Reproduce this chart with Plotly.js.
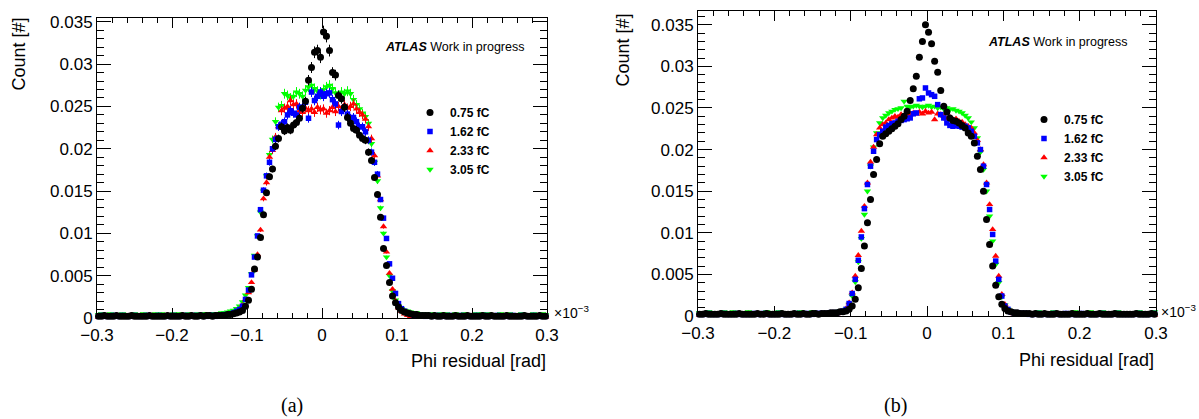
<!DOCTYPE html>
<html>
<head>
<meta charset="utf-8">
<script src="https://cdn.plot.ly/plotly-3.0.1.min.js"></script>
<style>html,body{margin:0;padding:0;background:#fff;}#chart{width:1199px;height:419px;}</style>
</head>
<body>
<div id="chart"></div>
<script>
// Bin centres of the phi residual histograms (x 10^-3 rad)
const phiResidual = [
-0.298,-0.294,-0.290,-0.286,-0.282,-0.278,-0.274,-0.270,-0.266,-0.262,
-0.258,-0.254,-0.250,-0.246,-0.242,-0.238,-0.234,-0.230,-0.226,-0.222,
-0.218,-0.214,-0.210,-0.206,-0.202,-0.198,-0.194,-0.190,-0.186,-0.182,
-0.178,-0.174,-0.170,-0.166,-0.162,-0.158,-0.154,-0.150,-0.146,-0.142,
-0.138,-0.134,-0.130,-0.126,-0.122,-0.118,-0.114,-0.110,-0.106,-0.102,
-0.098,-0.094,-0.090,-0.086,-0.082,-0.078,-0.074,-0.070,-0.066,-0.062,
-0.058,-0.054,-0.050,-0.046,-0.042,-0.038,-0.034,-0.030,-0.026,-0.022,
-0.018,-0.014,-0.010,-0.006,-0.002,0.002,0.006,0.010,0.014,0.018,
0.022,0.026,0.030,0.034,0.038,0.042,0.046,0.050,0.054,0.058,
0.062,0.066,0.070,0.074,0.078,0.082,0.086,0.090,0.094,0.098,
0.102,0.106,0.110,0.114,0.118,0.122,0.126,0.130,0.134,0.138,
0.142,0.146,0.150,0.154,0.158,0.162,0.166,0.170,0.174,0.178,
0.182,0.186,0.190,0.194,0.198,0.202,0.206,0.210,0.214,0.218,
0.222,0.226,0.230,0.234,0.238,0.242,0.246,0.250,0.254,0.258,
0.262,0.266,0.270,0.274,0.278,0.282,0.286,0.290,0.294,0.298];

const chargeLabels = ['0.75 fC', '1.62 fC', '2.33 fC', '3.05 fC'];

// Panel (a)
const countA_075 = [
0.0002,0.0002,0.0003,0.0002,0.0002,0.0002,0.0003,0.0002,0.0002,0.0002,
0.0002,0.0003,0.0002,0.0002,0.0002,0.0002,0.0002,0.0003,0.0002,0.0002,
0.0002,0.0002,0.0002,0.0003,0.0002,0.0002,0.0002,0.0002,0.0003,0.0002,
0.0002,0.0003,0.0002,0.0002,0.0003,0.0002,0.0003,0.0003,0.0002,0.0003,
0.0003,0.0003,0.0003,0.0004,0.0004,0.0005,0.0006,0.0007,0.0009,0.0014,
0.0021,0.0034,0.0058,0.0072,0.0095,0.0122,0.0148,0.0167,0.0176,0.0203,
0.0212,0.0226,0.0221,0.0225,0.0222,0.0228,0.0231,0.0236,0.0248,0.0256,
0.0281,0.0296,0.0314,0.0316,0.0308,0.0338,0.0333,0.0316,0.0290,0.0287,
0.0263,0.0259,0.0249,0.0237,0.0230,0.0224,0.0222,0.0216,0.0212,0.0210,
0.0196,0.0186,0.0166,0.0146,0.0119,0.0082,0.0062,0.0042,0.0026,0.0018,
0.0013,0.0009,0.0007,0.0006,0.0005,0.0004,0.0004,0.0003,0.0003,0.0003,
0.0003,0.0002,0.0003,0.0002,0.0002,0.0003,0.0002,0.0002,0.0002,0.0003,
0.0002,0.0002,0.0002,0.0003,0.0002,0.0002,0.0002,0.0002,0.0003,0.0002,
0.0002,0.0003,0.0002,0.0002,0.0002,0.0002,0.0003,0.0002,0.0002,0.0002,
0.0002,0.0002,0.0003,0.0002,0.0002,0.0002,0.0002,0.0003,0.0002,0.0002];
const countA_162 = [
0.0002,0.0003,0.0002,0.0002,0.0002,0.0003,0.0002,0.0002,0.0003,0.0002,
0.0002,0.0002,0.0003,0.0002,0.0002,0.0002,0.0003,0.0002,0.0002,0.0002,
0.0003,0.0002,0.0002,0.0002,0.0002,0.0003,0.0002,0.0002,0.0002,0.0003,
0.0002,0.0002,0.0003,0.0002,0.0003,0.0002,0.0002,0.0003,0.0003,0.0002,
0.0003,0.0003,0.0004,0.0004,0.0005,0.0006,0.0008,0.0010,0.0014,0.0022,
0.0033,0.0051,0.0072,0.0097,0.0128,0.0151,0.0168,0.0184,0.0200,0.0211,
0.0226,0.0229,0.0232,0.0240,0.0245,0.0242,0.0240,0.0249,0.0249,0.0255,
0.0236,0.0267,0.0257,0.0262,0.0267,0.0262,0.0265,0.0266,0.0258,0.0253,
0.0228,0.0244,0.0249,0.0241,0.0236,0.0237,0.0232,0.0226,0.0226,0.0220,
0.0210,0.0196,0.0184,0.0170,0.0140,0.0118,0.0094,0.0064,0.0047,0.0029,
0.0017,0.0011,0.0008,0.0006,0.0005,0.0004,0.0003,0.0003,0.0003,0.0002,
0.0003,0.0002,0.0002,0.0003,0.0002,0.0002,0.0002,0.0003,0.0002,0.0002,
0.0002,0.0003,0.0002,0.0002,0.0002,0.0002,0.0003,0.0002,0.0002,0.0003,
0.0002,0.0002,0.0002,0.0003,0.0002,0.0002,0.0002,0.0002,0.0003,0.0002,
0.0002,0.0003,0.0002,0.0002,0.0002,0.0003,0.0002,0.0002,0.0002,0.0002];
const countA_233 = [
0.0001,0.0001,0.0002,0.0001,0.0001,0.0001,0.0002,0.0001,0.0001,0.0001,
0.0001,0.0002,0.0001,0.0001,0.0001,0.0001,0.0001,0.0002,0.0001,0.0001,
0.0001,0.0001,0.0001,0.0002,0.0001,0.0001,0.0001,0.0001,0.0002,0.0001,
0.0001,0.0002,0.0001,0.0001,0.0002,0.0001,0.0002,0.0001,0.0002,0.0002,
0.0002,0.0002,0.0003,0.0003,0.0004,0.0005,0.0007,0.0010,0.0015,0.0022,
0.0030,0.0042,0.0057,0.0075,0.0104,0.0141,0.0160,0.0190,0.0198,0.0214,
0.0226,0.0245,0.0248,0.0250,0.0257,0.0252,0.0253,0.0245,0.0243,0.0248,
0.0245,0.0247,0.0243,0.0249,0.0246,0.0247,0.0242,0.0245,0.0249,0.0244,
0.0250,0.0246,0.0252,0.0248,0.0250,0.0253,0.0247,0.0243,0.0240,0.0235,
0.0226,0.0212,0.0192,0.0168,0.0140,0.0108,0.0078,0.0053,0.0034,0.0020,
0.0012,0.0008,0.0005,0.0003,0.0002,0.0002,0.0001,0.0002,0.0001,0.0001,
0.0001,0.0001,0.0002,0.0001,0.0001,0.0001,0.0001,0.0002,0.0001,0.0001,
0.0001,0.0002,0.0001,0.0001,0.0001,0.0001,0.0002,0.0001,0.0001,0.0001,
0.0001,0.0001,0.0001,0.0002,0.0001,0.0001,0.0001,0.0001,0.0002,0.0001,
0.0001,0.0001,0.0002,0.0001,0.0001,0.0001,0.0001,0.0001,0.0002,0.0001];
const countA_305 = [
0.0004,0.0005,0.0004,0.0004,0.0005,0.0004,0.0004,0.0004,0.0005,0.0004,
0.0004,0.0004,0.0005,0.0004,0.0004,0.0005,0.0004,0.0004,0.0004,0.0005,
0.0004,0.0005,0.0004,0.0004,0.0004,0.0005,0.0004,0.0005,0.0004,0.0004,
0.0005,0.0004,0.0004,0.0005,0.0004,0.0005,0.0005,0.0004,0.0005,0.0005,
0.0005,0.0006,0.0006,0.0007,0.0008,0.0009,0.0011,0.0014,0.0019,0.0027,
0.0036,0.0052,0.0074,0.0097,0.0125,0.0150,0.0168,0.0193,0.0211,0.0232,
0.0249,0.0251,0.0265,0.0263,0.0260,0.0262,0.0267,0.0265,0.0262,0.0269,
0.0273,0.0275,0.0271,0.0268,0.0264,0.0270,0.0273,0.0275,0.0271,0.0266,
0.0262,0.0267,0.0265,0.0268,0.0265,0.0258,0.0252,0.0247,0.0242,0.0238,
0.0230,0.0206,0.0184,0.0162,0.0130,0.0100,0.0072,0.0050,0.0032,0.0021,
0.0014,0.0011,0.0009,0.0008,0.0007,0.0006,0.0006,0.0005,0.0005,0.0005,
0.0004,0.0005,0.0004,0.0004,0.0005,0.0004,0.0005,0.0004,0.0004,0.0005,
0.0004,0.0004,0.0005,0.0004,0.0004,0.0004,0.0005,0.0004,0.0005,0.0004,
0.0005,0.0004,0.0004,0.0004,0.0005,0.0004,0.0004,0.0005,0.0004,0.0004,
0.0004,0.0005,0.0004,0.0004,0.0004,0.0005,0.0004,0.0004,0.0005,0.0004];

// Panel (b)
const countB_075 = [
0.0002,0.0002,0.0003,0.0002,0.0002,0.0002,0.0002,0.0003,0.0002,0.0002,
0.0002,0.0002,0.0002,0.0003,0.0002,0.0002,0.0002,0.0002,0.0002,0.0003,
0.0002,0.0002,0.0003,0.0002,0.0002,0.0002,0.0002,0.0003,0.0002,0.0002,
0.0002,0.0003,0.0002,0.0002,0.0003,0.0002,0.0002,0.0003,0.0003,0.0002,
0.0003,0.0003,0.0003,0.0004,0.0004,0.0004,0.0005,0.0005,0.0006,0.0008,
0.0012,0.0020,0.0034,0.0057,0.0084,0.0112,0.0140,0.0170,0.0188,0.0207,
0.0216,0.0219,0.0222,0.0225,0.0228,0.0231,0.0236,0.0240,0.0246,0.0259,
0.0273,0.0288,0.0311,0.0330,0.0350,0.0341,0.0327,0.0306,0.0293,0.0271,
0.0252,0.0245,0.0238,0.0235,0.0234,0.0232,0.0229,0.0226,0.0220,0.0216,
0.0208,0.0192,0.0176,0.0150,0.0116,0.0086,0.0060,0.0037,0.0023,0.0014,
0.0009,0.0006,0.0005,0.0004,0.0004,0.0003,0.0003,0.0003,0.0003,0.0002,
0.0003,0.0002,0.0002,0.0003,0.0002,0.0002,0.0002,0.0003,0.0002,0.0002,
0.0002,0.0002,0.0003,0.0002,0.0002,0.0002,0.0002,0.0003,0.0002,0.0002,
0.0002,0.0003,0.0002,0.0002,0.0002,0.0002,0.0003,0.0002,0.0002,0.0002,
0.0002,0.0002,0.0002,0.0003,0.0002,0.0002,0.0002,0.0002,0.0003,0.0002];
const countB_162 = [
0.0002,0.0002,0.0002,0.0003,0.0002,0.0002,0.0002,0.0002,0.0003,0.0002,
0.0002,0.0002,0.0003,0.0002,0.0002,0.0002,0.0002,0.0002,0.0003,0.0002,
0.0002,0.0003,0.0002,0.0002,0.0002,0.0002,0.0003,0.0002,0.0002,0.0002,
0.0002,0.0002,0.0003,0.0002,0.0002,0.0003,0.0002,0.0002,0.0003,0.0003,
0.0003,0.0003,0.0003,0.0004,0.0004,0.0004,0.0005,0.0006,0.0008,0.0015,
0.0027,0.0044,0.0067,0.0095,0.0129,0.0158,0.0180,0.0198,0.0212,0.0218,
0.0222,0.0227,0.0229,0.0231,0.0232,0.0234,0.0235,0.0236,0.0237,0.0238,
0.0243,0.0244,0.0261,0.0262,0.0274,0.0268,0.0266,0.0264,0.0254,0.0242,
0.0238,0.0232,0.0229,0.0228,0.0229,0.0228,0.0227,0.0228,0.0226,0.0222,
0.0216,0.0208,0.0200,0.0180,0.0158,0.0128,0.0098,0.0066,0.0044,0.0024,
0.0012,0.0008,0.0005,0.0004,0.0004,0.0003,0.0003,0.0003,0.0002,0.0002,
0.0002,0.0003,0.0002,0.0002,0.0002,0.0002,0.0003,0.0002,0.0002,0.0002,
0.0003,0.0002,0.0002,0.0002,0.0002,0.0003,0.0002,0.0002,0.0002,0.0002,
0.0002,0.0002,0.0003,0.0002,0.0002,0.0002,0.0002,0.0003,0.0002,0.0002,
0.0002,0.0002,0.0002,0.0002,0.0003,0.0002,0.0002,0.0002,0.0002,0.0003];
const countB_233 = [
0.0001,0.0001,0.0001,0.0002,0.0001,0.0001,0.0001,0.0001,0.0001,0.0002,
0.0001,0.0001,0.0001,0.0001,0.0002,0.0001,0.0001,0.0001,0.0001,0.0001,
0.0002,0.0001,0.0001,0.0001,0.0001,0.0002,0.0001,0.0001,0.0001,0.0001,
0.0001,0.0002,0.0001,0.0001,0.0001,0.0002,0.0001,0.0001,0.0001,0.0001,
0.0001,0.0001,0.0002,0.0002,0.0002,0.0003,0.0004,0.0005,0.0009,0.0016,
0.0028,0.0048,0.0073,0.0102,0.0132,0.0160,0.0185,0.0203,0.0218,0.0226,
0.0230,0.0232,0.0236,0.0238,0.0240,0.0239,0.0242,0.0241,0.0243,0.0242,
0.0244,0.0243,0.0245,0.0243,0.0246,0.0244,0.0245,0.0236,0.0243,0.0242,
0.0240,0.0237,0.0239,0.0236,0.0237,0.0234,0.0233,0.0230,0.0228,0.0226,
0.0220,0.0211,0.0200,0.0182,0.0160,0.0134,0.0104,0.0072,0.0048,0.0026,
0.0014,0.0008,0.0005,0.0003,0.0002,0.0002,0.0001,0.0001,0.0001,0.0001,
0.0001,0.0001,0.0002,0.0001,0.0001,0.0001,0.0001,0.0001,0.0002,0.0001,
0.0001,0.0001,0.0001,0.0002,0.0001,0.0001,0.0001,0.0001,0.0001,0.0002,
0.0001,0.0001,0.0001,0.0001,0.0002,0.0001,0.0001,0.0001,0.0001,0.0001,
0.0002,0.0001,0.0001,0.0001,0.0001,0.0001,0.0002,0.0001,0.0001,0.0001];
const countB_305 = [
0.0004,0.0004,0.0004,0.0005,0.0004,0.0004,0.0004,0.0004,0.0005,0.0004,
0.0004,0.0005,0.0004,0.0004,0.0004,0.0004,0.0005,0.0004,0.0004,0.0004,
0.0004,0.0004,0.0005,0.0004,0.0004,0.0004,0.0005,0.0004,0.0004,0.0004,
0.0004,0.0004,0.0004,0.0005,0.0004,0.0004,0.0004,0.0005,0.0004,0.0004,
0.0004,0.0004,0.0004,0.0005,0.0005,0.0005,0.0006,0.0006,0.0008,0.0014,
0.0024,0.0041,0.0065,0.0093,0.0122,0.0150,0.0180,0.0203,0.0220,0.0232,
0.0238,0.0241,0.0244,0.0246,0.0248,0.0249,0.0250,0.0258,0.0252,0.0251,
0.0252,0.0253,0.0252,0.0251,0.0252,0.0253,0.0251,0.0252,0.0250,0.0251,
0.0249,0.0250,0.0248,0.0249,0.0247,0.0246,0.0244,0.0241,0.0238,0.0233,
0.0226,0.0214,0.0197,0.0176,0.0150,0.0120,0.0090,0.0062,0.0040,0.0023,
0.0013,0.0008,0.0006,0.0005,0.0005,0.0004,0.0004,0.0004,0.0004,0.0004,
0.0004,0.0005,0.0004,0.0004,0.0004,0.0004,0.0005,0.0004,0.0004,0.0004,
0.0004,0.0004,0.0004,0.0005,0.0004,0.0004,0.0004,0.0004,0.0005,0.0004,
0.0004,0.0004,0.0005,0.0004,0.0004,0.0004,0.0004,0.0005,0.0004,0.0004,
0.0004,0.0004,0.0004,0.0004,0.0005,0.0004,0.0004,0.0004,0.0004,0.0005];

const seriesA = [countA_075, countA_162, countA_233, countA_305];
const seriesB = [countB_075, countB_162, countB_233, countB_305];
const colors = ['#000000', '#0000ff', '#ff0000', '#00ff00'];
const symbols = ['circle', 'square', 'triangle-up', 'triangle-down'];
const sizes = [7, 5.5, 6.5, 6.5];
const FONT = 'Liberation Sans, Arial, Helvetica, sans-serif';

const traces = [];
// draw green first, black last (on top); legend order via legendrank
for (let k = 3; k >= 0; k--) {
  traces.push({
    type: 'scatter', mode: 'markers', x: phiResidual, y: seriesA[k],
    xaxis: 'x', yaxis: 'y', name: chargeLabels[k], legend: 'legend', legendrank: k + 1,
    cliponaxis: false,
    marker: {color: colors[k], symbol: symbols[k], size: sizes[k], line: {width: 0}},
    error_y: {type: 'percent', value: 2.2, visible: true, color: colors[k], thickness: 1, width: 0}
  });
}
for (let k = 3; k >= 0; k--) {
  traces.push({
    type: 'scatter', mode: 'markers', x: phiResidual, y: seriesB[k],
    xaxis: 'x2', yaxis: 'y2', name: chargeLabels[k], legend: 'legend2', legendrank: k + 1,
    cliponaxis: false,
    marker: {color: colors[k], symbol: symbols[k], size: sizes[k], line: {width: 0}}
  });
}

function xAxis(domain, anchor) {
  return {
    domain: domain, anchor: anchor, range: [-0.3, 0.3], tick0: 0, dtick: 0.1,
    ticks: 'inside', ticklen: 10, tickwidth: 1, tickcolor: '#000',
    showline: true, linecolor: '#000', linewidth: 1, mirror: 'ticks',
    showgrid: false, zeroline: false, ticklabelstandoff: 2,
    tickfont: {family: FONT, size: 17, color: '#000'},
    minor: {dtick: 0.02, ticks: 'inside', ticklen: 5, tickcolor: '#000', showgrid: false}
  };
}
function yAxis(domain, anchor, top) {
  return {
    domain: domain, anchor: anchor, range: [0, top], tick0: 0, dtick: 0.005,
    ticks: 'inside', ticklen: 14, tickwidth: 1, tickcolor: '#000',
    showline: true, linecolor: '#000', linewidth: 1, mirror: 'ticks',
    showgrid: false, zeroline: false,
    tickfont: {family: FONT, size: 17, color: '#000'},
    minor: {dtick: 0.001, ticks: 'inside', ticklen: 7, tickcolor: '#000', showgrid: false}
  };
}

function ann(text, x, y, xa, ya, size, extra) {
  return Object.assign({text: text, x: x, y: y, xref: 'paper', yref: 'paper',
    xanchor: xa, yanchor: ya, showarrow: false,
    font: {family: FONT, size: size, color: '#000'}}, extra || {});
}

const W = 1199, H = 419;
const layout = {
  width: W, height: H, margin: {l: 0, r: 0, t: 0, b: 0},
  paper_bgcolor: '#fff', plot_bgcolor: '#fff',
  xaxis: xAxis([97 / W, 547 / W], 'y'),
  yaxis: yAxis([1 - 318 / H, 1 - 18 / H], 'x', 0.03545),
  xaxis2: xAxis([698 / W, 1156 / W], 'y2'),
  yaxis2: yAxis([1 - 316 / H, 1 - 11 / H], 'x2', 0.03665),
  legend: {x: 410 / W, y: 1 - 98 / H, xanchor: 'left', yanchor: 'top', bgcolor: 'rgba(0,0,0,0)',
    borderwidth: 0, font: {family: FONT, size: 12, color: '#000', weight: 'bold'}},
  legend2: {x: 1024 / W, y: 1 - 105 / H, xanchor: 'left', yanchor: 'top', bgcolor: 'rgba(0,0,0,0)',
    borderwidth: 0, font: {family: FONT, size: 12, color: '#000', weight: 'bold'}},
  annotations: [
    ann('Count [#]', 18 / W, 1 - 16 / H, 'center', 'top', 18, {textangle: -90}),
    ann('Count [#]', 622 / W, 1 - 12 / H, 'center', 'top', 18, {textangle: -90}),
    ann('Phi residual [rad]', 548 / W, 1 - 361 / H, 'right', 'middle', 18),
    ann('Phi residual [rad]', 1156 / W, 1 - 360 / H, 'right', 'middle', 18),
    ann('×10<sup>−3</sup>', 552 / W, 1 - 312 / H, 'left', 'middle', 14),
    ann('×10<sup>−3</sup>', 1159 / W, 1 - 311 / H, 'left', 'middle', 14),
    ann('<b><i>ATLAS</i></b> Work in progress', 383 / W, 1 - 47 / H, 'left', 'middle', 12.5),
    ann('<b><i>ATLAS</i></b> Work in progress', 986 / W, 1 - 42 / H, 'left', 'middle', 12.5),
    ann('(a)', 292 / W, 1 - 405 / H, 'center', 'middle', 20, {font: {family: 'Liberation Serif, DejaVu Serif, serif', size: 20, color: '#000'}}),
    ann('(b)', 895 / W, 1 - 405 / H, 'center', 'middle', 20, {font: {family: 'Liberation Serif, DejaVu Serif, serif', size: 20, color: '#000'}})
  ]
};

Plotly.newPlot('chart', traces, layout, {staticPlot: true, displayModeBar: false});
</script>
</body>
</html>
